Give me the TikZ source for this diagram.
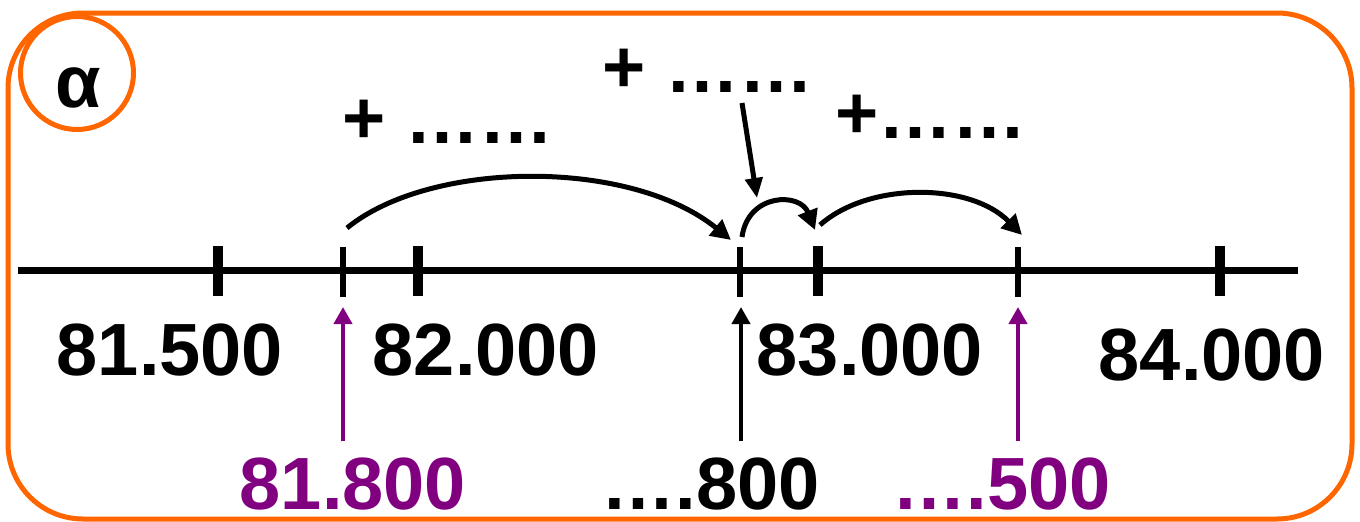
\documentclass[tikz,border=0pt]{standalone}
\usepackage{fontspec}
\setmainfont{Liberation Sans}
\usetikzlibrary{arrows.meta}
\definecolor{bordor}{HTML}{FF6600}
\definecolor{purp}{HTML}{800080}
\begin{document}
\begin{tikzpicture}[x=1pt,y=-1pt,
  big/.style={font=\fontsize{74}{80}\selectfont\bfseries, inner sep=0pt, anchor=base},
  thintick/.style={line width=6pt},
  thicktick/.style={line width=10pt},
  jump/.style={line width=5pt, -{Triangle[length=20pt,width=20pt]}},
  uparrow/.style={line width=4pt, -{Triangle[length=17pt,width=18pt]}}]
\useasboundingbox (0,0) rectangle (1360,522);
% frame
\draw[bordor, line width=5pt, rounded corners=75pt] (8,13) rectangle (1352,519);
\node[circle, draw=bordor, line width=5pt, minimum size=113pt, inner sep=0pt] (circ) at (77,73) {};
\node[big] (alpha) at (78,107) {α};
% number line
\coordinate (L) at (18,270);
\coordinate (R) at (1298,270);
\draw[line width=7pt] (L) -- (R);
\foreach \x/\n in {218/t1, 418/t3, 818/t5, 1220/t7}{
  \coordinate (\n u) at (\x,246);
  \coordinate (\n d) at (\x,296);
  \draw[thicktick] (\n u) -- (\n d);
}
\foreach \x/\n in {343/t2, 740/t4, 1018/t6}{
  \coordinate (\n u) at (\x,247);
  \coordinate (\n d) at (\x,297);
  \draw[thintick] (\n u) -- (\n d);
}
% labels
\node[big] (n1) at (170,375) {81.500};
\node[big] (n2) at (486,375) {82.000};
\node[big] (n3) at (870,375) {83.000};
\node[big] (n4) at (1212,380) {84.000};
\node[big, text=purp] (b1) at (353,509) {81.800};
\node[big] (b2) at (711,509) {….800};
\node[big, text=purp] (b3) at (1002,509) {….500};
% up arrows
\coordinate (u1s) at (343,441); \coordinate (u1e) at (343,307);
\coordinate (u2s) at (741,441); \coordinate (u2e) at (741,307);
\coordinate (u3s) at (1018,441); \coordinate (u3e) at (1018,307);
\draw[uparrow, purp] (u1s) -- (u1e);
\draw[uparrow] (u2s) -- (u2e);
\draw[uparrow, purp] (u3s) -- (u3e);
% top texts
\node[big] (tA) at (448,143) {+ ……};
\node[big] (tB) at (708,92) {+ ……};
\node[big] (tC) at (931,138) {+……};
% jumps
\coordinate (j1s) at (347,228); \coordinate (j1e) at (731,240);
\coordinate (j2s) at (742,237); \coordinate (j2e) at (815,230);
\coordinate (j3s) at (820,225); \coordinate (j3e) at (1022,235);
\draw[jump] (j1s) .. controls (430,160) and (630,158) .. (j1e);
\draw[jump] (j2s) .. controls (748,193) and (800,192) .. (j2e);
\draw[jump] (j3s) .. controls (868,182) and (970,182) .. (j3e);
% pointer
\coordinate (ps) at (742,103); \coordinate (pe) at (757,198);
\draw[line width=5pt, -{Triangle[length=20pt,width=17pt]}] (ps) -- (pe);
\end{tikzpicture}
\end{document}
